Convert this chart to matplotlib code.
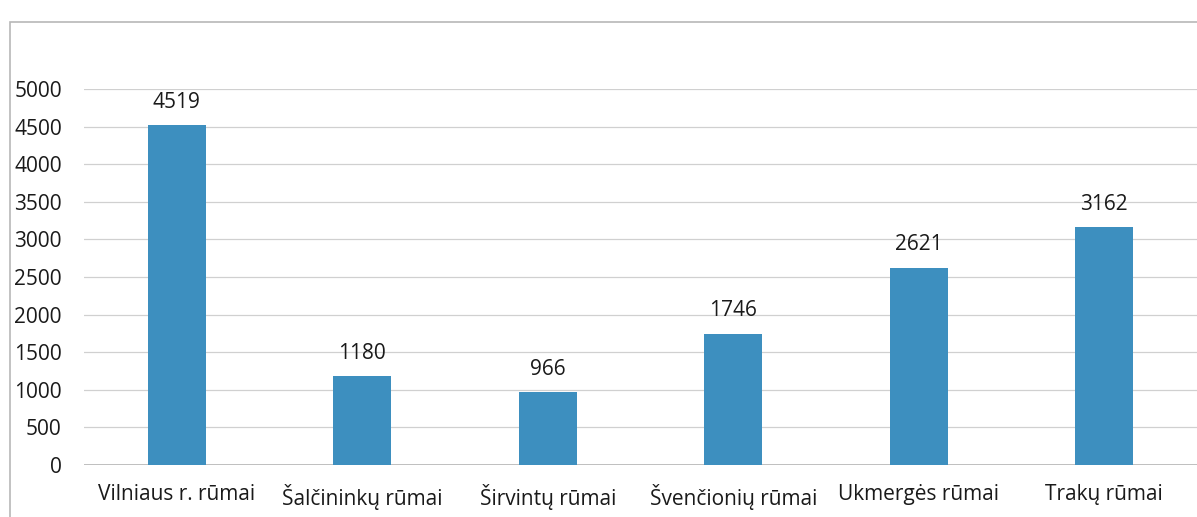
import matplotlib
matplotlib.use("Agg")
import matplotlib.pyplot as plt
from matplotlib.patches import Rectangle

categories = ["Vilniaus r. rūmai", "Šalčininkų rūmai", "Širvintų rūmai",
              "Švenčionių rūmai", "Ukmergės rūmai", "Trakų rūmai"]
values = [4519, 1180, 966, 1746, 2621, 3162]
yticks = [0, 500, 1000, 1500, 2000, 2500, 3000, 3500, 4000, 4500, 5000]

plt.rcParams['font.family'] = ['Open Sans', 'DejaVu Sans']

fig = plt.figure(figsize=(11.97, 5.17), dpi=100)
fig.patches.append(Rectangle((10/1197, -0.01), 1.0, 1 - 22/517 + 0.01,
                             transform=fig.transFigure, fill=False,
                             edgecolor="#b8b8b8", linewidth=1.2))
ax = fig.add_axes([84/1197, 1 - 465/517, 1 - 84/1197, (465 - 89)/517])
x = list(range(len(categories)))
ax.bar(x, values, width=0.31, color="#3d8fbf", zorder=3)
for xi, v in zip(x, values):
    ax.annotate(str(v), (xi, v), xytext=(0, 9), textcoords="offset points",
                ha="center", va="bottom", fontsize=15, color="#1a1a1a")
ax.set_xlim(-0.5, len(categories) - 0.5)
ax.set_ylim(0, 5000)
ax.set_yticks(yticks)
ax.set_xticks(x)
ax.set_xticklabels(categories, fontsize=15, color="#1a1a1a")
ax.tick_params(axis="y", labelsize=15, colors="#1a1a1a", length=0, pad=16)
ax.tick_params(axis="x", length=0, pad=14)
ax.grid(axis="y", color="#d0d0d0", linewidth=0.9, zorder=0)
for s in ax.spines.values():
    s.set_visible(False)
ax.axhline(0, color="#b5b5b5", linewidth=1.2, zorder=2)
fig.savefig("out.png", dpi=100)
